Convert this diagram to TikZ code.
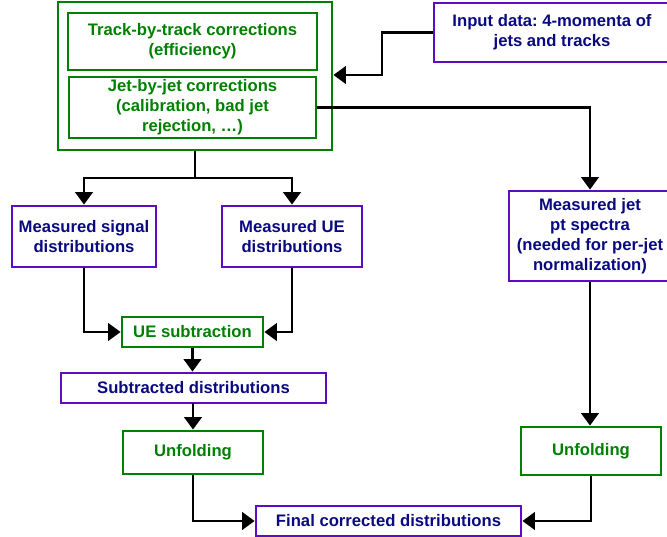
\documentclass[tikz,border=0pt]{standalone}
\usepackage{fontspec}
\setmainfont{Liberation Sans}
\usepackage{tikz}
\usetikzlibrary{arrows.meta,positioning,calc}
\definecolor{stepGreen}{HTML}{008000}
\definecolor{dataPurple}{HTML}{5E0CC4}
\definecolor{dataNavy}{HTML}{0A0A80}
\frenchspacing

\begin{document}
\begin{tikzpicture}[x=0.6pt, y=-0.6pt,
  font=\fontsize{10}{12}\selectfont\bfseries,
  gbx/.style={draw=stepGreen, line width=1.7pt, text=stepGreen, align=center, inner sep=0pt},
  pbx/.style={draw=dataPurple, line width=1.7pt, text=dataNavy, fill=white, align=center, inner sep=0pt},
  arr/.style={line width=1.6pt, -{Triangle[length=7.5pt,width=10.5pt]}},
  ln/.style={line width=1.6pt}]
\useasboundingbox (0,0) rectangle (667,537);
% correction block
\node[gbx, minimum width=164.4pt, minimum height=88.8pt] (corr) at (195,76) {};
\node[gbx, minimum width=149.4pt, minimum height=34.2pt] (trk) at (192.5,41.5) {Track-by-track corrections\\(efficiency)};
\node[gbx, minimum width=148.2pt, minimum height=36.6pt] (jbj) at (192.5,107.5) {Jet-by-jet corrections\\(calibration, bad jet\\rejection, \dots)};
\node[pbx, minimum width=141.6pt, minimum height=35.4pt] (input) at (552,32.5) {Input data: 4-momenta of\\jets and tracks};
% measured inputs
\node[pbx, minimum width=86.4pt, minimum height=36.6pt] (sig) at (84,236.5) {Measured signal\\distributions};
\node[pbx, minimum width=84pt, minimum height=36.6pt] (ue) at (292,236.5) {Measured UE\\distributions};
\node[pbx, minimum width=97.2pt, minimum height=54pt] (jetpt) at (590,236) {Measured jet\\pt spectra\\(needed for per-jet\\normalization)};
% processing chain
\node[gbx, minimum width=84.6pt, minimum height=18pt] (uesub) at (192.5,332) {UE subtraction};
\node[pbx, minimum width=159pt, minimum height=18pt] (subd) at (193.5,388) {Subtracted distributions};
\node[gbx, minimum width=84pt, minimum height=25.8pt] (unfL) at (193,452.5) {Unfolding};
\node[gbx, minimum width=84pt, minimum height=28.8pt] (unfR) at (591,451) {Unfolding};
\node[pbx, minimum width=159pt, minimum height=18pt] (final) at (388.5,521) {Final corrected distributions};
% connectors
\coordinate (inbend) at (382,75);
\coordinate (split) at (195,178);
\draw[arr] (input.west) -| (inbend) -- (inbend -| corr.east);
\draw[arr] (jbj.east) -| (jetpt.north);
\draw[ln] (corr.south) -- (split);
\draw[arr] (split) -| (sig.north);
\draw[arr] (split) -| (ue.north);
\draw[arr] (sig.south) |- (uesub.west);
\draw[arr] (ue.south) |- (uesub.east);
\draw[arr] (uesub.south) -- (uesub.south |- subd.north);
\draw[arr] (subd.south) -- (subd.south -| unfL.north) -- (unfL.north);
\draw[arr] (unfL.south) |- (final.west);
\draw[arr] (jetpt.south) -- (jetpt.south |- unfR.north);
\draw[arr] (unfR.south) |- (final.east);
\end{tikzpicture}
\end{document}
